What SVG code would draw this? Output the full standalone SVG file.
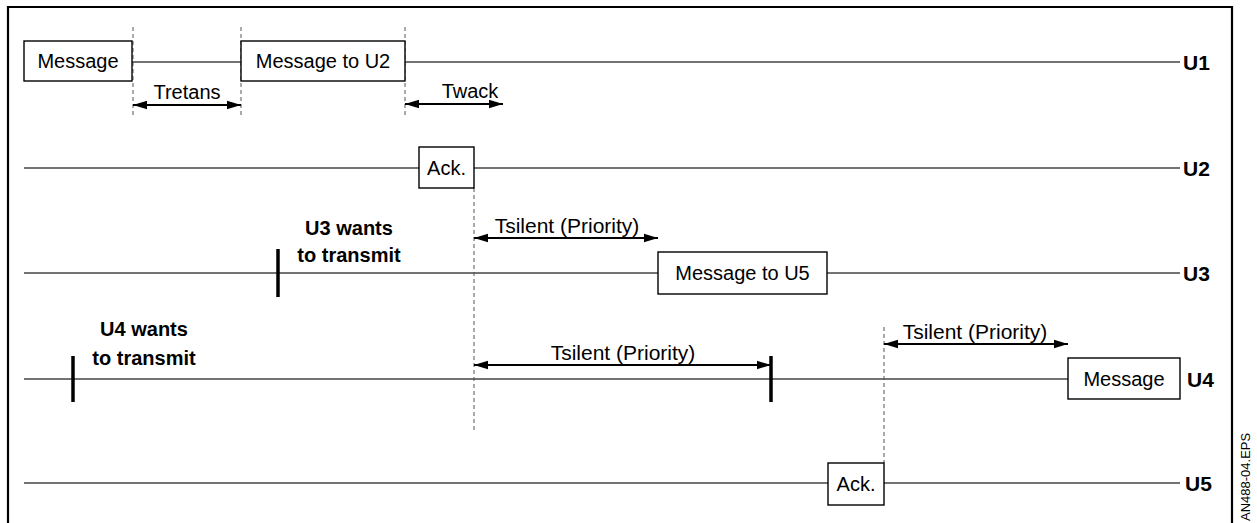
<svg xmlns="http://www.w3.org/2000/svg" width="1257" height="523" viewBox="0 0 1257 523">
<style>
.frame{fill:none;stroke:#000;stroke-width:2.2}
.tl{stroke:#444;stroke-width:1.4;fill:none}
.dash{stroke:#555;stroke-width:1;stroke-dasharray:4 3;fill:none}
.arr{stroke:#000;stroke-width:2;fill:none;marker-start:url(#ah);marker-end:url(#ah)}
.box{fill:#fff;stroke:#000;stroke-width:1.4}
.bar{stroke:#000;stroke-width:3.5}
.t{font-family:"Liberation Sans",Arial,sans-serif;font-size:20px;fill:#000}
.ts{font-size:21px}
.c{text-anchor:middle}
.b{font-weight:bold}
.lbl{font-family:"Liberation Sans",Arial,sans-serif;font-size:21px;font-weight:bold;fill:#000}
</style>
<defs>
<marker id="ah" markerUnits="userSpaceOnUse" markerWidth="15" markerHeight="10" refX="14" refY="5" orient="auto-start-reverse">
<path d="M0,0.8 L14,5 L0,9.2 z" fill="#000"/>
</marker>
</defs>
<path class="frame" d="M8,523 V7 H1232 V523"/>
<g id="connectors">
<line class="tl" x1="132" y1="62" x2="241" y2="62"/>
<line class="tl" x1="405" y1="62" x2="1180" y2="62"/>
<line class="tl" x1="24" y1="168" x2="419" y2="168"/>
<line class="tl" x1="474" y1="168" x2="1180" y2="168"/>
<line class="tl" x1="24" y1="273" x2="658" y2="273"/>
<line class="tl" x1="827" y1="273" x2="1180" y2="273"/>
<line class="tl" x1="24" y1="379" x2="1068" y2="379"/>
<line class="tl" x1="24" y1="483" x2="828" y2="483"/>
<line class="tl" x1="884" y1="483" x2="1180" y2="483"/>
<line class="dash" x1="133" y1="27" x2="133" y2="118"/>
<line class="dash" x1="241" y1="27" x2="241" y2="118"/>
<line class="dash" x1="405" y1="27" x2="405" y2="118"/>
<line class="dash" x1="474" y1="188" x2="474" y2="431"/>
<line class="dash" x1="884" y1="327" x2="884" y2="463"/>
<line class="arr" x1="133" y1="105" x2="241" y2="105"/>
<line class="arr" x1="405" y1="104" x2="503" y2="104"/>
<line class="arr" x1="474" y1="238" x2="658" y2="238"/>
<line class="arr" x1="474" y1="365" x2="771" y2="365"/>
<line class="arr" x1="884" y1="344" x2="1068" y2="344"/>
<line class="bar" x1="278" y1="249" x2="278" y2="297"/>
<line class="bar" x1="73" y1="356" x2="73" y2="402"/>
<line class="bar" x1="771" y1="356" x2="771" y2="402"/>
</g>
<g id="u1-message"><rect class="box" x="24" y="41" width="108" height="40"/><text class="t c" x="78" y="68">Message</text></g>
<g id="u1-message-to-u2"><rect class="box" x="241" y="41" width="164" height="40"/><text class="t c" x="323" y="68">Message to U2</text></g>
<g id="u2-ack"><rect class="box" x="419" y="147" width="55" height="41"/><text class="t c" x="446.5" y="175">Ack.</text></g>
<g id="u3-message-to-u5"><rect class="box" x="658" y="252" width="169" height="42"/><text class="t c" x="742.5" y="280">Message to U5</text></g>
<g id="u4-message"><rect class="box" x="1068" y="358" width="112" height="41"/><text class="t c" x="1124" y="386">Message</text></g>
<g id="u5-ack"><rect class="box" x="828" y="463" width="56" height="42"/><text class="t c" x="856" y="491">Ack.</text></g>
<g id="labels">
<text class="t c" x="187" y="99">Tretans</text>
<text class="t c" x="470" y="98">Twack</text>
<text class="t ts c" x="567" y="233">Tsilent (Priority)</text>
<text class="t ts c" x="623" y="360">Tsilent (Priority)</text>
<text class="t ts c" x="975" y="339">Tsilent (Priority)</text>
<text class="t c b" x="349" y="235">U3 wants</text>
<text class="t c b" x="349" y="262">to transmit</text>
<text class="t c b" x="144" y="336">U4 wants</text>
<text class="t c b" x="144" y="365">to transmit</text>
<text class="lbl" x="1183" y="70">U1</text>
<text class="lbl" x="1183" y="176">U2</text>
<text class="lbl" x="1183" y="281">U3</text>
<text class="lbl" x="1187" y="387">U4</text>
<text class="lbl" x="1185" y="491">U5</text>
<text transform="translate(1250,521) rotate(-90)" font-family="Liberation Sans, Arial, sans-serif" font-size="13" fill="#000">AN488-04.EPS</text>
</g>
</svg>
